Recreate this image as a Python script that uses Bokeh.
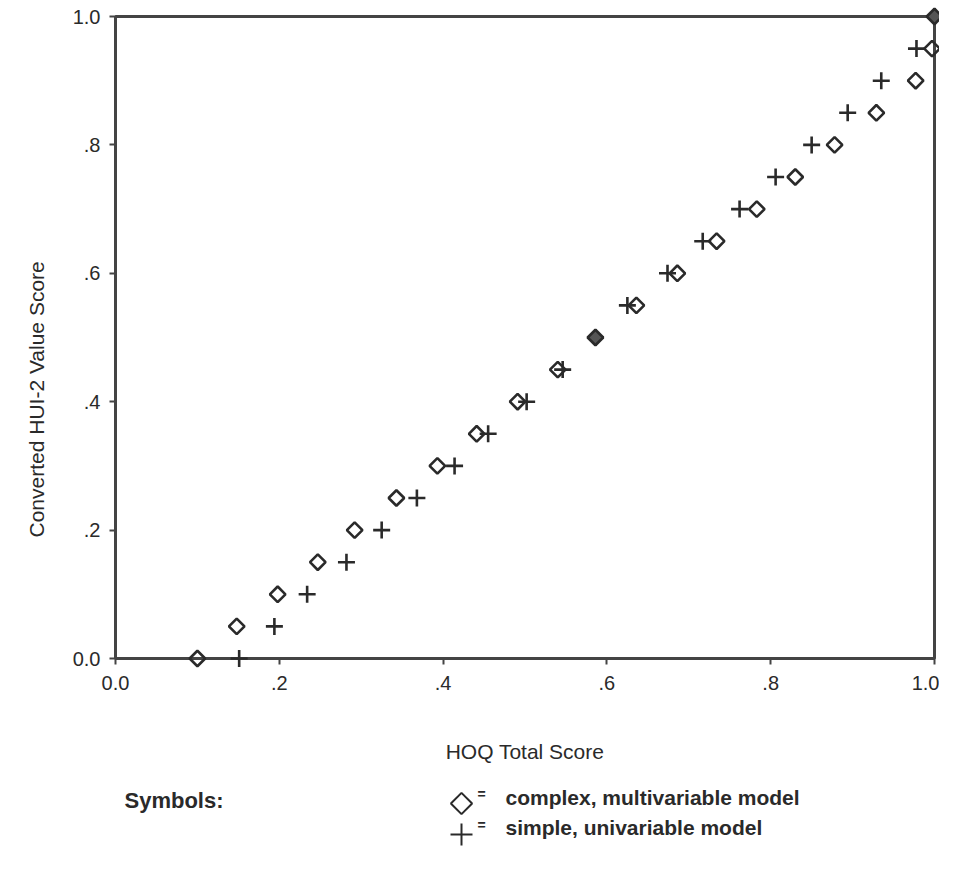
import numpy as np
from bokeh.plotting import figure
from bokeh.layouts import column
from bokeh.models import Range1d, FixedTicker, ColumnDataSource, Title
from bokeh.core.properties import value
from bokeh.embed import file_html
from bokeh.resources import INLINE

# ---- data ----
y_levels = [0.00, 0.05, 0.10, 0.15, 0.20, 0.25, 0.30, 0.35, 0.40, 0.45, 0.50,
            0.55, 0.60, 0.65, 0.70, 0.75, 0.80, 0.85, 0.90, 0.95, 1.00]
x_complex = [0.100, 0.148, 0.198, 0.247, 0.292, 0.343, 0.393, 0.441, 0.491, 0.540, 0.586,
             0.636, 0.686, 0.734, 0.783, 0.830, 0.878, 0.929, 0.977, 0.997, 1.000]
x_simple = [0.151, 0.194, 0.234, 0.282, 0.325, 0.368, 0.414, 0.455, 0.502, 0.546, 0.586,
            0.625, 0.674, 0.717, 0.762, 0.806, 0.850, 0.894, 0.935, 0.978, 1.000]
tick_values = [0.0, 0.2, 0.4, 0.6, 0.8, 1.0]
tick_labels = ["0.0", ".2", ".4", ".6", ".8", "1.0"]
x_title = "HOQ Total Score"
y_title = "Converted HUI-2 Value Score"
legend_head = "Symbols:"
legend_texts = ["complex, multivariable model", "simple, univariable model"]
legend_eq = ["=", "="]

FONT = "Liberation Sans"
INK = "#2a2a2a"
AXIS = "#444444"

# geometry in canvas pixels
FL, FR, FT, FB = 115, 934, 16, 658
W, H_MAIN, H_LEG = 939, 770, 85

p = figure(width=W, height=H_MAIN, output_backend="svg", toolbar_location=None,
           x_range=Range1d(0, 1), y_range=Range1d(0, 1),
           min_border_left=FL, min_border_right=W - FR, min_border_top=FT,
           min_border_bottom=H_MAIN - FB,
           background_fill_color="white", border_fill_color="white")
p.grid.visible = False
p.outline_line_color = AXIS
p.outline_line_width = 3

for ax in (p.xaxis[0], p.yaxis[0]):
    ax.ticker = FixedTicker(ticks=tick_values)
    ax.major_label_overrides = {v: t for v, t in zip(tick_values, tick_labels)}
    ax.minor_tick_line_color = None
    ax.major_tick_in = 0
    ax.major_tick_out = 6
    ax.major_tick_line_color = AXIS
    ax.major_tick_line_width = 2
    ax.axis_line_color = AXIS
    ax.axis_line_width = 3
    ax.major_label_text_font = FONT
    ax.major_label_text_font_size = "20px"
    ax.major_label_text_color = INK
p.xaxis[0].major_label_standoff = 11
p.yaxis[0].major_label_standoff = 9

xa = p.xaxis[0]
xa.axis_label = x_title
xa.axis_label_text_font = FONT
xa.axis_label_text_font_size = "21px"
xa.axis_label_text_font_style = "normal"
xa.axis_label_text_color = INK
xa.axis_label_standoff = 47

p.add_layout(Title(text=y_title, align="left", offset=121, text_font=FONT,
                   text_font_size="21px", text_font_style="normal",
                   text_color=INK, standoff=44), "left")

# overlap of the two models -> darkened diamond
fill_alpha = [1.0 if abs(a - b) < 0.003 else 0.0 for a, b in zip(x_complex, x_simple)]
src_c = ColumnDataSource(dict(x=x_complex, y=y_levels, fa=fill_alpha))
src_s = ColumnDataSource(dict(x=x_simple, y=y_levels))

rs = p.scatter("x", "y", source=src_s, marker="cross", size=17, line_color=INK,
               line_width=2.6)
rc = p.scatter("x", "y", source=src_c, marker="square", angle=np.pi / 4, size=11,
               line_color=INK, line_width=2.6, fill_color="#555555", fill_alpha="fa")
rs.level = "overlay"
rc.level = "overlay"

# ---- legend strip below (pixel coordinates, y downward; frame aligned with p) ----
q = figure(width=W, height=H_LEG, output_backend="svg", toolbar_location=None,
           x_range=Range1d(FL, FR), y_range=Range1d(H_LEG, 0),
           min_border_left=FL, min_border_right=W - FR, min_border_top=0,
           min_border_bottom=0,
           background_fill_color="white", border_fill_color="white")
q.axis.visible = False
q.grid.visible = False
q.outline_line_color = None

q.text(x=[124], y=[30], text=[legend_head], text_font=value(FONT),
       text_font_size="22px", text_font_style="bold", text_color=INK,
       text_baseline="middle", text_align="left")
q.scatter(x=[461], y=[33], marker="square", angle=np.pi / 4, size=15,
          line_color=INK, line_width=2, fill_color=None)
q.scatter(x=[461], y=[64], marker="cross", size=22, line_color=INK, line_width=2)
q.text(x=[481, 481], y=[23, 54], text=legend_eq, text_font=value(FONT),
       text_font_size="14px", text_font_style="bold", text_color=INK,
       text_baseline="middle", text_align="center")
q.text(x=[505, 505], y=[27, 57], text=legend_texts, text_font=value(FONT),
       text_font_size="21px", text_font_style="bold", text_color=INK,
       text_baseline="middle", text_align="left")

layout = column(p, q, spacing=0)
open("out.html", "w").write(file_html(layout, INLINE))
